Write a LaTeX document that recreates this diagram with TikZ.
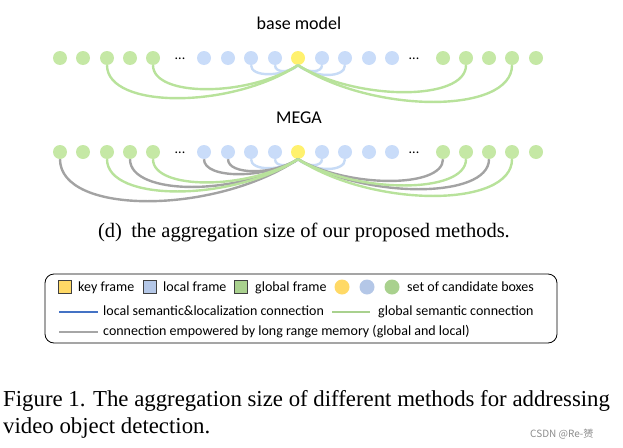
\documentclass[tikz,border=0pt]{standalone}
\usepackage{fontspec}
\setmainfont{Liberation Serif}
\newfontfamily\calibri{Carlito}
\newfontfamily\cjk{Noto Sans CJK SC}
\usetikzlibrary{calc}

\definecolor{fgreen}{HTML}{C5E8A5}
\definecolor{fblue}{HTML}{C9DCF9}
\definecolor{fkey}{HTML}{FFF16E}
\definecolor{agreen}{HTML}{B8E29B}
\definecolor{ablue}{HTML}{C7DBF6}
\definecolor{agray}{HTML}{A3A3A3}
\definecolor{lkey}{HTML}{FFD966}
\definecolor{llocal}{HTML}{B4C7E7}
\definecolor{lglobal}{HTML}{A9D18E}
\definecolor{lblue}{HTML}{4472C4}
\definecolor{lgray}{HTML}{A6A6A6}

\begin{document}
\begin{tikzpicture}[x=1pt,y=-1pt,
  frame/.style={circle,minimum size=14pt,inner sep=0pt},
  link/.style={line width=2.4pt},
  title/.style={font=\calibri\fontsize{18}{20}\selectfont,anchor=base,inner sep=0pt},
  dots/.style={font=\calibri\fontsize{14}{16}\selectfont,anchor=base,inner sep=0pt},
  lab/.style={font=\calibri\fontsize{14}{16}\selectfont,anchor=base west,inner sep=0pt},
  sq/.style={draw=black!75,line width=0.6pt,minimum size=13pt,inner sep=0pt},
  dot/.style={circle,minimum size=15pt,inner sep=0pt},
  leg/.style={line width=2.5pt}]
  \useasboundingbox (0,0) rectangle (623,447);
  \foreach \r/\dy/\t in {b/0/base model,m/94/MEGA}{
    \begin{scope}[shift={(0,\dy)}]
      \node[title] (\r t) at (299,29) {\t};
      \foreach \i/\x/\c in {1/60/fgreen,2/83/fgreen,3/107/fgreen,4/130/fgreen,5/153/fgreen,
                            6/204/fblue,7/228/fblue,8/251/fblue,9/275/fblue,10/298/fkey,
                            11/322/fblue,12/345/fblue,13/369/fblue,14/392/fblue,
                            15/443/fgreen,16/466/fgreen,17/489/fgreen,18/512/fgreen,19/536/fgreen}
        \node[frame,fill=\c] (\r\i) at (\x,58) {};
      \node[dots] (\r d1) at (180,59) {...};
      \node[dots] (\r d2) at (414,59) {...};
    \end{scope}
  }
  \foreach \i/\h/\s in {8/12/ablue,9/8/ablue,11/8/ablue,12/13/ablue,
                        3/44/agreen,5/32/agreen,16/36/agreen,18/49/agreen}
    \draw[link,\s] (b\i.south) .. controls +(0,\h) and ($(b10.south)!0.35!(b\i.south)+(0,\h)$) .. (b10.south);
  \foreach \i/\h/\s in {8/12/ablue,9/8/ablue,11/8/ablue,12/13/ablue,
                        1/56/agray,4/37/agray,6/20/agray,7/16/agray,15/29/agray,17/40/agray,
                        3/43/agreen,5/31/agreen,16/35/agreen,18/49/agreen}
    \draw[link,\s] (m\i.south) .. controls +(0,\h) and ($(m10.south)!0.35!(m\i.south)+(0,\h)$) .. (m10.south);

  \node[anchor=base,font=\fontsize{20.5}{24}\selectfont] (sub) at (304,237) {(d)\hspace{0.45em}the aggregation size of our proposed methods.};

  \draw[rounded corners=9pt,line width=0.8pt] (45,274) rectangle (557,343);
  \node[sq,fill=lkey] (kf) at (65,287) {};
  \node[lab] (kft) at (78,291) {key frame};
  \node[sq,fill=llocal] (lf) at (150,287) {};
  \node[lab] (lft) at (163,291) {local frame};
  \node[sq,fill=lglobal] (gf) at (241,287) {};
  \node[lab] (gft) at (255,291) {global frame};
  \node[dot,fill=lkey] (c1) at (342,287) {};
  \node[dot,fill=llocal] (c2) at (367,287) {};
  \node[dot,fill=lglobal] (c3) at (392,287) {};
  \node[lab] (ct) at (407,291) {set of candidate boxes};
  \coordinate (l1a) at (59,312);
  \coordinate (l1b) at (98,312);
  \draw[leg,lblue] (l1a) -- (l1b);
  \node[lab] (l1t) at (103,315.5) {local semantic\&localization connection};
  \coordinate (l2a) at (332,312);
  \coordinate (l2b) at (370,312);
  \draw[leg,lglobal] (l2a) -- (l2b);
  \node[lab] (l2t) at (378,315.5) {global semantic connection};
  \coordinate (l3a) at (59,332);
  \coordinate (l3b) at (98,332);
  \draw[leg,lgray] (l3a) -- (l3b);
  \node[lab] (l3t) at (103,335.5) {connection empowered by long range memory (global and local)};

  \node[anchor=base west,inner sep=0pt,font=\fontsize{22.8}{26}\selectfont] (cap1) at (3,406) {Figure 1. The aggregation size of different methods for addressing};
  \node[anchor=base west,inner sep=0pt,font=\fontsize{22.8}{26}\selectfont] (cap2) at (3,433) {video object detection.};
  \node[anchor=base west,inner sep=0pt,font=\cjk\fontsize{10}{12}\selectfont,text=black!45] (wm) at (530,437) {CSDN @Re-赟};
\end{tikzpicture}
\end{document}
